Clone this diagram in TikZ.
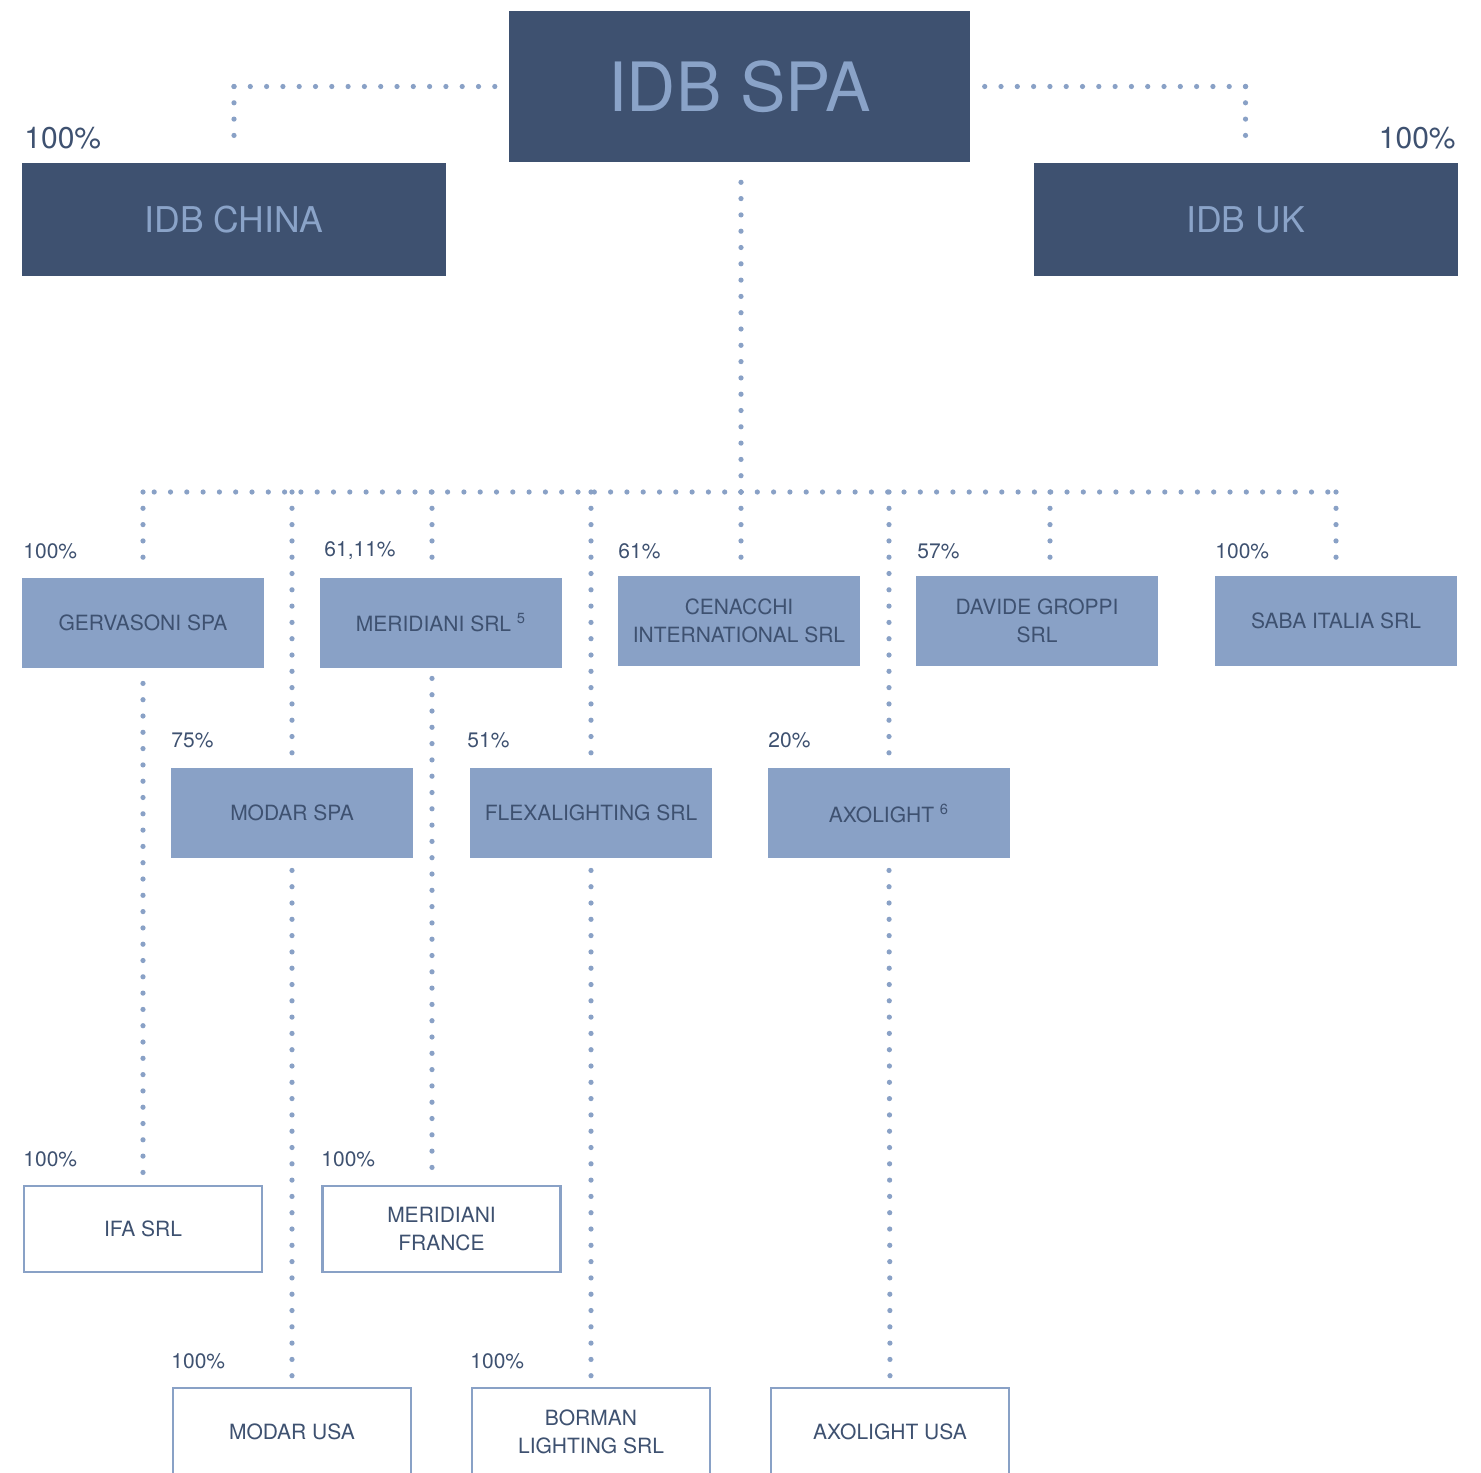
\documentclass[tikz,border=0pt]{standalone}
\usepackage{fontspec}
\setmainfont{TeX Gyre Heros}
\definecolor{navy}{HTML}{3E5170}
\definecolor{steel}{HTML}{89A1C6}
\definecolor{paletxt}{HTML}{8AA3C8}
\begin{document}
\begin{tikzpicture}[x=0.5pt,y=-0.5pt,
  topbox/.style={rectangle, fill=navy, draw=none, text=paletxt, inner sep=0pt, anchor=center},
  midbox/.style={rectangle, fill=steel, draw=none, text=navy, inner sep=0pt, anchor=center,
     minimum width=121pt, minimum height=45pt, align=center, font=\fontsize{10.5}{14}\selectfont},
  leafbox/.style={rectangle, fill=white, draw=steel, line width=1.25pt, text=navy, inner sep=0pt, anchor=center,
     minimum width=119pt, minimum height=43pt, align=center, font=\fontsize{10.5}{14}\selectfont},
  pct/.style={anchor=west, inner sep=0pt, text=navy, font=\fontsize{10.5}{12}\selectfont},
  bigpct/.style={inner sep=0pt, text=navy, font=\fontsize{15}{18}\selectfont},
  dotline/.style={draw=steel, line width=2.6pt, line cap=round, dash pattern=on 0pt off 8.15pt}
]
\useasboundingbox[fill=white] (0,0) rectangle (1481,1472);

% top level
\node[topbox, minimum width=230.5pt, minimum height=75.5pt, font=\fontsize{34}{36}\selectfont] (spa) at (739.5,86.5) {IDB SPA};
\node[topbox, minimum width=212pt, minimum height=56.5pt, font=\fontsize{17.75}{20}\selectfont] (china) at (234,219.5) {IDB CHINA};
\node[topbox, minimum width=212pt, minimum height=56.5pt, font=\fontsize{17.75}{20}\selectfont] (uk) at (1245.5,219.5) {IDB UK};
\node[bigpct, anchor=west] (pchina) at (24,138) {100\%};
\node[bigpct, anchor=east] (puk) at (1456,138) {100\%};

% second row
\node[midbox] (gerv) at (143,623) {GERVASONI SPA};
\node[midbox] (meri) at (441,623) {MERIDIANI SRL \textsuperscript{5}};
\node[midbox] (cena) at (739,621) {CENACCHI\\INTERNATIONAL SRL};
\node[midbox] (davide) at (1037,621) {DAVIDE GROPPI\\SRL};
\node[midbox] (saba) at (1336,621) {SABA ITALIA SRL};
\node[pct] (pgerv) at (23,551) {100\%};
\node[pct] (pmeri) at (324,551) {61,11\%};
\node[pct] (pcena) at (618,551) {61\%};
\node[pct] (pdav) at (917,551) {57\%};
\node[pct] (psaba) at (1215,551) {100\%};

% third row
\node[midbox] (modar) at (292,813) {MODAR SPA};
\node[midbox] (flex) at (591,813) {FLEXALIGHTING SRL};
\node[midbox] (axo) at (889,813) {AXOLIGHT \textsuperscript{6}};
\node[pct] (pmodar) at (171,740) {75\%};
\node[pct] (pflex) at (467,740) {51\%};
\node[pct] (paxo) at (768,740) {20\%};

% fourth row
\node[leafbox] (ifa) at (143,1229) {IFA SRL};
\node[leafbox] (merifr) at (441.5,1229) {MERIDIANI\\FRANCE};
\node[pct] (pifa) at (23,1159) {100\%};
\node[pct] (pmerifr) at (321,1159) {100\%};

% fifth row
\node[leafbox, minimum height=44pt] (modarusa) at (292,1432) {MODAR USA};
\node[leafbox, minimum height=44pt] (borman) at (591,1432) {BORMAN\\LIGHTING SRL};
\node[leafbox, minimum height=44pt] (axousa) at (890,1432) {AXOLIGHT USA};
\node[pct] (pmodarusa) at (171,1361) {100\%};
\node[pct] (pborman) at (470,1361) {100\%};

% helper coordinates
\coordinate (bus) at (741,492);
\coordinate (cornl) at (spa.west -| china.north);
\coordinate (cornr) at (spa.east -| uk.north);
\coordinate (meritop) at ([xshift=-4.5pt]meri.north);
\coordinate (meribot) at ([xshift=-4.5pt]meri.south);
\coordinate (davtop) at ([xshift=6.5pt]davide.north);
\coordinate (spabot) at ([xshift=0.75pt]spa.south);

% connectors top
\draw[dotline, shorten >=6.5pt] (cornl) -- (spa.west);
\draw[dotline, shorten >=5.5pt] (cornl) -- (cornl |- china.north);
\draw[dotline, shorten >=6.5pt] (cornr) -- (spa.east);
\draw[dotline, shorten >=5.5pt] (cornr) -- (cornr |- uk.north);
\draw[dotline, shorten >=4.5pt] (bus) -- (bus |- cena.north);
\draw[dotline, shorten >=6.5pt] (bus) -- (spabot);

% bus
\draw[dotline] (bus) -- (gerv.north |- bus);
\draw[dotline] (bus) -- (saba.north |- bus);

% verticals from bus
\draw[dotline, shorten >=3pt] (gerv.north |- bus) -- (gerv.north);
\draw[dotline, shorten >=3pt] (meritop |- bus) -- (meritop);
\draw[dotline, shorten >=3pt] (davtop |- bus) -- (davtop);
\draw[dotline, shorten >=2.5pt] (saba.north |- bus) -- (saba.north);
\draw[dotline, shorten >=7pt] (modar.north |- bus) -- (modar.north);
\draw[dotline, shorten >=7pt] (flex.north |- bus) -- (flex.north);
\draw[dotline, shorten >=7pt] (axo.north |- bus) -- (axo.north);

% lower connectors
\draw[dotline, shorten <=7.5pt, shorten >=5pt] (gerv.south) -- (ifa.north);
\draw[dotline, shorten <=5pt, shorten >=6.5pt] (meribot) -- (meribot |- merifr.north);
\draw[dotline, shorten <=6pt, shorten >=4.5pt] (modar.south) -- (modarusa.north);
\draw[dotline, shorten <=6pt, shorten >=4.5pt] (flex.south) -- (borman.north);
\draw[dotline, shorten <=6pt, shorten >=4.5pt] (axo.south) -- (axousa.north);
\end{tikzpicture}
\end{document}
